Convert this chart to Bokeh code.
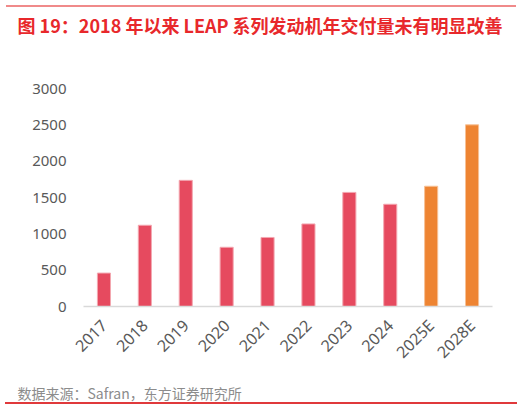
from bokeh.plotting import figure
from bokeh.models import Range1d, FactorRange, Title, Div, ColumnDataSource
from bokeh.layouts import column
from bokeh.embed import file_html
from bokeh.resources import INLINE
import math

# ---- data ----
years = ["2017", "2018", "2019", "2020", "2021", "2022", "2023", "2024", "2025E", "2028E"]
deliveries = [460, 1118, 1736, 815, 950, 1136, 1570, 1407, 1655, 2500]
is_forecast = [False, False, False, False, False, False, False, False, True, True]
y_ticks = [0, 500, 1000, 1500, 2000, 2500, 3000]

title_text = "图 19：2018 年以来 LEAP 系列发动机年交付量未有明显改善"
source_text = "数据来源：Safran，东方证券研究所"

RED = "#E64A5F"
ORANGE = "#EE8432"
RED_EDGE = "#F3A7B0"
ORANGE_EDGE = "#F7C196"
CJK = "Noto Sans CJK SC"

top_rule = Div(text="", width=510, height=2, margin=(5, 0, 0, 6),
               styles={"background-color": "#F08A8A"})
bottom_rule = Div(text="", width=512, height=2, margin=(0, 0, 0, 5),
                  styles={"background-color": "#E0393B"})

# ---- main chart ----
colors = [ORANGE if f else RED for f in is_forecast]
edges = [ORANGE_EDGE if f else RED_EDGE for f in is_forecast]
src = ColumnDataSource(dict(x=years, top=deliveries, color=colors, edge=edges))

p = figure(frame_width=409, frame_height=218, x_range=FactorRange(*years), y_range=Range1d(0, 3000),
           output_backend="svg", toolbar_location=None, margin=(0, 0, 0, 0),
           min_border_left=83, min_border_right=30, min_border_top=81, min_border_bottom=90)
p.vbar(x="x", top="top", width=0.32, source=src, fill_color="color", line_color="edge", line_width=1)
p.x_range.range_padding = 0
p.outline_line_color = None
p.grid.visible = False
p.border_fill_color = None
p.background_fill_color = None

# header: spacer panel next to the frame, then the title above it
p.add_layout(Title(text=" ", text_font_size="1px", standoff=48), "above")
p.add_layout(Title(text=title_text, align="left", offset=-66, standoff=0,
                   text_font=CJK, text_font_size="18px", text_font_style="bold",
                   text_color="#E8282B"), "above")

# footer: small spacer below the axis, then the source line
p.add_layout(Title(text=" ", text_font_size="1px", standoff=4), "below")
p.add_layout(Title(text=source_text, align="left", offset=-66, standoff=0,
                   text_font=CJK, text_font_size="14px", text_font_style="normal",
                   text_color="#8C8C8C"), "below")

p.yaxis.ticker = y_ticks
p.yaxis.axis_line_color = None
p.yaxis.major_tick_line_color = None
p.yaxis.minor_tick_line_color = None
p.yaxis.major_tick_out = 0
p.yaxis.major_label_standoff = 17
p.yaxis.major_label_text_font = "Noto Sans"
p.yaxis.major_label_text_font_size = "15px"
p.yaxis.major_label_text_color = "#595959"

p.xaxis.axis_line_color = "#D9D9D9"
p.xaxis.axis_line_width = 1.5
p.xaxis.major_tick_line_color = None
p.xaxis.minor_tick_line_color = None
p.xaxis.major_tick_out = 0
p.xaxis.major_label_orientation = math.pi / 4
p.xaxis.major_label_standoff = 16
p.xaxis.major_label_text_font = "Noto Sans"
p.xaxis.major_label_text_font_size = "16px"
p.xaxis.major_label_text_color = "#595959"

layout = column(top_rule, p, bottom_rule, spacing=0)
open("out.html", "w").write(file_html(layout, INLINE))
